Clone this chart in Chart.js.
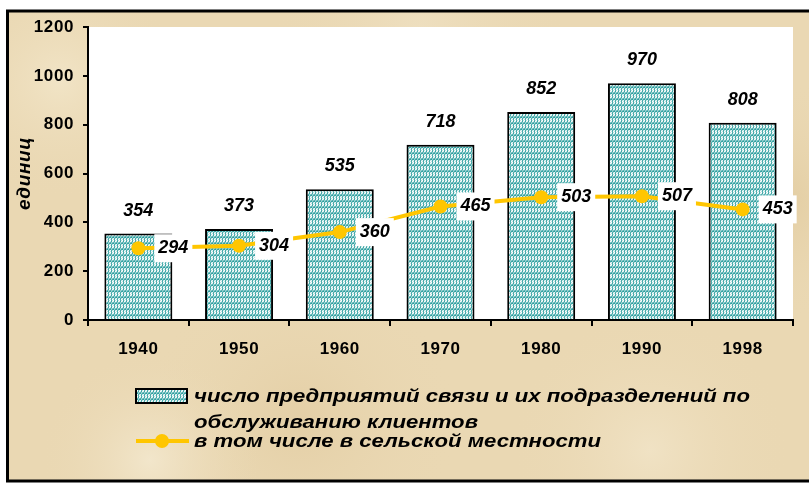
<!DOCTYPE html>
<html>
<head>
<meta charset="utf-8">
<script src="https://cdn.jsdelivr.net/npm/chart.js@4/dist/chart.umd.min.js"></script>
<style>
  html, body { margin: 0; padding: 0; background: #fff; }
  #wrap { width: 809px; height: 483px; position: relative; }
</style>
</head>
<body>
<div id="wrap"><canvas id="c" width="809" height="483"></canvas></div>
<script>
// ---- data ----
const years = ['1940', '1950', '1960', '1970', '1980', '1990', '1998'];
const totalEnterprises = [354, 373, 535, 718, 852, 970, 808];
const ruralEnterprises = [294, 304, 360, 465, 503, 507, 453];
const yTitle = 'единиц';
const legendBarLines = ['число предприятий связи и их подразделений по', 'обслуживанию клиентов'];
const legendLineText = 'в том числе в сельской местности';

const FONT = '"Liberation Sans", Arial, sans-serif';
const YELLOW = '#FFC600';

// hatch pattern for bars
function makePattern() {
  const t = document.createElement('canvas');
  t.width = 6; t.height = 6;
  const g = t.getContext('2d');
  g.fillStyle = '#ffffff';
  g.fillRect(0, 0, 6, 6);
  g.strokeStyle = '#2A9E9E';
  g.lineWidth = 1.1;
  g.beginPath();
  for (let k = -6; k <= 12; k += 3) {
    g.moveTo(k, 6);
    g.lineTo(k + 1.5, 3);
    g.lineTo(k + 2.5, 3.5);
    g.lineTo(k + 4, 0);
  }
  g.stroke();
  return g.createPattern(t, 'repeat');
}
const ctx0 = document.getElementById('c').getContext('2d');
const hatch = makePattern();

const backgroundPlugin = {
  id: 'bg',
  beforeDraw(chart) {
    const ctx = chart.ctx;
    const W = chart.width, H = chart.height;
    ctx.save();
    ctx.fillStyle = '#ffffff';
    ctx.fillRect(0, 0, W, H);
    ctx.fillStyle = '#EAD8B3';
    ctx.fillRect(7, 10, W, H - 11);
    const blobs = [[60, 80, 120, '#F1E4C6'], [300, 420, 160, '#E4CFA6'], [650, 450, 140, '#F0E2C4'],
                   [780, 200, 120, '#E3CDA2'], [420, 30, 150, '#EEDFBF'], [150, 460, 110, '#F2E6CB']];
    for (const [x, y, r, c] of blobs) {
      const gr = ctx.createRadialGradient(x, y, 0, x, y, r);
      gr.addColorStop(0, c);
      gr.addColorStop(1, 'rgba(234,216,179,0)');
      ctx.fillStyle = gr;
      ctx.fillRect(7, 10, W, H - 11);
    }
    ctx.strokeStyle = '#000';
    ctx.lineWidth = 3;
    ctx.strokeRect(7.5, 11, W + 20, 470);
    const a = chart.chartArea;
    ctx.fillStyle = '#ffffff';
    ctx.fillRect(a.left, a.top, a.right - a.left, a.bottom - a.top);
    ctx.restore();
    ctx.letterSpacing = '0.6px';
  }
};

function stretchedText(ctx, txt, x, y, sx) {
  ctx.save();
  ctx.translate(x, y);
  ctx.scale(sx, 1);
  ctx.fillText(txt, 0, 0);
  ctx.restore();
}

const labelPlugin = {
  id: 'labels',
  afterDatasetsDraw(chart) {
    const ctx = chart.ctx;
    ctx.save();
    ctx.letterSpacing = '0px';
    ctx.font = 'italic bold 18px ' + FONT;
    ctx.textAlign = 'center';
    ctx.textBaseline = 'middle';
    ctx.fillStyle = '#000';
    const barMeta = chart.getDatasetMeta(0);
    barMeta.data.forEach((el, i) => {
      ctx.fillText(String(totalEnterprises[i]), el.x, el.y - 23);
    });
    const lineMeta = chart.getDatasetMeta(1);
    lineMeta.data.forEach((el, i) => {
      const txt = String(ruralEnterprises[i]);
      const w = ctx.measureText(txt).width;
      const cx = el.x + 35;
      ctx.fillStyle = '#fff';
      ctx.fillRect(cx - w / 2 - 4, el.y - 14, w + 8, 28);
      ctx.fillStyle = '#000';
      ctx.fillText(txt, cx, el.y);
    });
    ctx.restore();
  },
  afterDraw(chart) {
    const ctx = chart.ctx;
    ctx.save();
    ctx.letterSpacing = '0px';
    // bar legend swatch
    ctx.fillStyle = hatch;
    ctx.fillRect(136, 389, 51, 14);
    ctx.strokeStyle = '#000';
    ctx.lineWidth = 2;
    ctx.strokeRect(136, 389, 51, 14);
    // line legend swatch
    ctx.strokeStyle = YELLOW;
    ctx.lineWidth = 4;
    ctx.beginPath();
    ctx.moveTo(136, 441);
    ctx.lineTo(189, 441);
    ctx.stroke();
    ctx.fillStyle = YELLOW;
    ctx.beginPath();
    ctx.arc(162, 441, 7, 0, Math.PI * 2);
    ctx.fill();
    // legend text
    ctx.fillStyle = '#000';
    ctx.font = 'italic bold 19px ' + FONT;
    ctx.textAlign = 'left';
    ctx.textBaseline = 'middle';
    stretchedText(ctx, legendBarLines[0], 194, 397, 1.165);
    stretchedText(ctx, legendBarLines[1], 194, 423, 1.165);
    stretchedText(ctx, legendLineText, 194, 442, 1.165);
    ctx.restore();
  }
};

new Chart(ctx0, {
  type: 'bar',
  data: {
    labels: years,
    datasets: [
      {
        type: 'bar',
        label: legendBarLines.join(' '),
        data: totalEnterprises,
        backgroundColor: hatch,
        borderColor: '#000',
        borderWidth: 2,
        categoryPercentage: 1,
        barPercentage: 0.675,
        order: 1
      },
      {
        type: 'line',
        label: legendLineText,
        data: ruralEnterprises,
        borderColor: YELLOW,
        backgroundColor: YELLOW,
        borderWidth: 4,
        pointRadius: 7,
        pointBorderWidth: 0,
        pointBackgroundColor: YELLOW,
        tension: 0,
        order: 0
      }
    ]
  },
  options: {
    responsive: false,
    animation: false,
    events: [],
    layout: { padding: { left: 0, top: 27, right: 16, bottom: 0 } },
    plugins: { legend: { display: false }, tooltip: { enabled: false } },
    scales: {
      x: {
        afterFit(s) { s.height = 163; },
        grid: { drawOnChartArea: false, drawTicks: true, tickLength: 6, color: '#000', lineWidth: 2, offset: true },
        border: { color: '#000', width: 2 },
        ticks: { color: '#000', font: { family: FONT, size: 17, weight: 'bold' }, padding: 13, maxRotation: 0 }
      },
      y: {
        min: 0, max: 1200,
        afterFit(s) { s.width = 88; },
        grid: { drawOnChartArea: false, drawTicks: true, tickLength: 5, color: '#000', lineWidth: 2 },
        border: { color: '#000', width: 2 },
        ticks: {
          stepSize: 200, color: '#000', font: { family: FONT, size: 17, weight: 'bold' }, padding: 9,
          callback: (v) => String(v)
        },
        title: {
          display: true, text: yTitle, color: '#000',
          font: { family: FONT, size: 19, weight: 'bold', style: 'italic' },
          padding: { top: 13, bottom: 0 }
        }
      }
    }
  },
  plugins: [backgroundPlugin, labelPlugin]
});
</script>
</body>
</html>
